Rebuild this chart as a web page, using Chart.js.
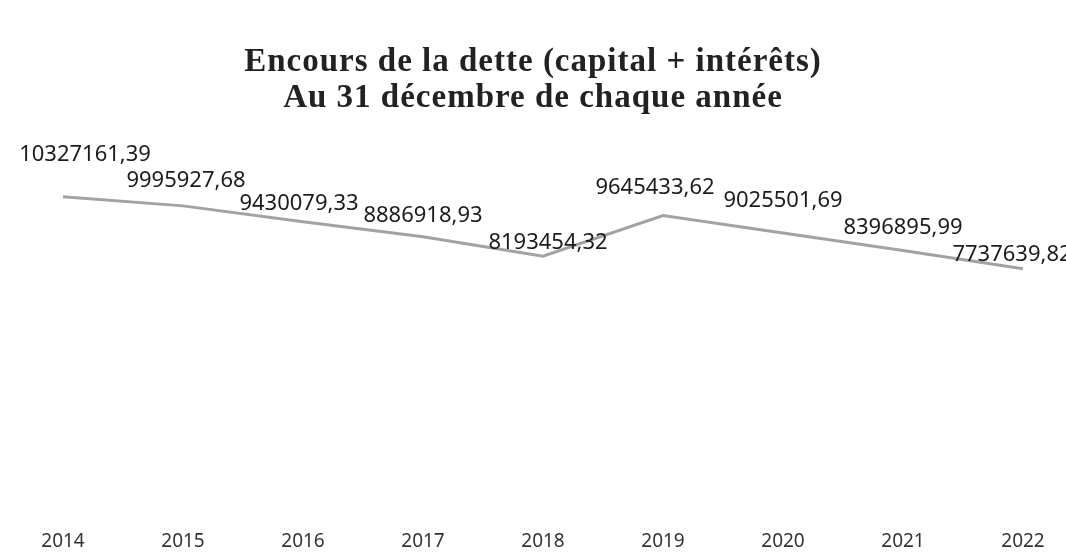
<!DOCTYPE html>
<html>
<head>
<meta charset="utf-8">
<script src="https://cdn.jsdelivr.net/npm/chart.js@4"></script>
<style>
  body { margin: 0; background: #fff; }
</style>
</head>
<body>
<canvas id="dette-chart" width="1066" height="560"></canvas>
<script>
const years = ['2014', '2015', '2016', '2017', '2018', '2019', '2020', '2021', '2022'];
const encours = [10327161.39, 9995927.68, 9430079.33, 8886918.93, 8193454.32, 9645433.62, 9025501.69, 8396895.99, 7737639.82];
const titleLines = ['Encours de la dette (capital + intérêts)', 'Au 31 décembre de chaque année'];

// label nudges (dx, dy) relative to each point, like Excel's auto placement
const labelShift = [[22, -42], [3, -25], [-4, -18], [0, -21], [5, -13], [-8, -28], [0, -32], [0, -23], [-11, -14]];

const fmt = v => v.toFixed(2).replace('.', ',');

// title drawn by hand so it stays centred on the whole canvas
const pageTitle = {
  id: 'pageTitle',
  afterDraw(chart) {
    const ctx = chart.ctx;
    ctx.save();
    ctx.font = 'bold 33px "Liberation Serif"';
    ctx.letterSpacing = '1px';
    ctx.fillStyle = '#222';
    ctx.textAlign = 'center';
    ctx.textBaseline = 'middle';
    titleLines.forEach((t, i) => ctx.fillText(t, chart.width / 2, 62 + i * 36));
    ctx.restore();
  }
};

// value labels above the points
const valueLabels = {
  id: 'valueLabels',
  afterDatasetsDraw(chart) {
    const ctx = chart.ctx;
    const meta = chart.getDatasetMeta(0);
    ctx.save();
    ctx.font = '22px "Noto Sans"';
    ctx.fillStyle = '#1c1c1c';
    ctx.textAlign = 'center';
    ctx.textBaseline = 'middle';
    meta.data.forEach((pt, i) => {
      const s = labelShift[i];
      ctx.fillText(fmt(encours[i]), pt.x + s[0], pt.y + s[1]);
    });
    ctx.restore();
  }
};

const ctx = document.getElementById('dette-chart').getContext('2d');
new Chart(ctx, {
  type: 'line',
  data: {
    labels: years,
    datasets: [{
      data: encours,
      borderColor: '#a2a2a2',
      borderWidth: 3,
      pointRadius: 0,
      tension: 0,
      fill: false,
    }],
  },
  options: {
    responsive: false,
    animation: false,
    layout: { padding: { left: 63, right: 43, top: 150, bottom: 0 } },
    plugins: {
      legend: { display: false },
      tooltip: { enabled: false },
      title: { display: false },
    },
    scales: {
      x: {
        offset: false,
        grid: { display: false },
        border: { display: false },
        ticks: {
          color: '#333',
          font: { family: '"Noto Sans"', size: 19 },
          padding: 7,
          maxRotation: 0,
        },
      },
      y: {
        display: false,
        min: -1100000,
        max: 12000000,
      },
    },
  },
  plugins: [valueLabels, pageTitle],
});
</script>
</body>
</html>
